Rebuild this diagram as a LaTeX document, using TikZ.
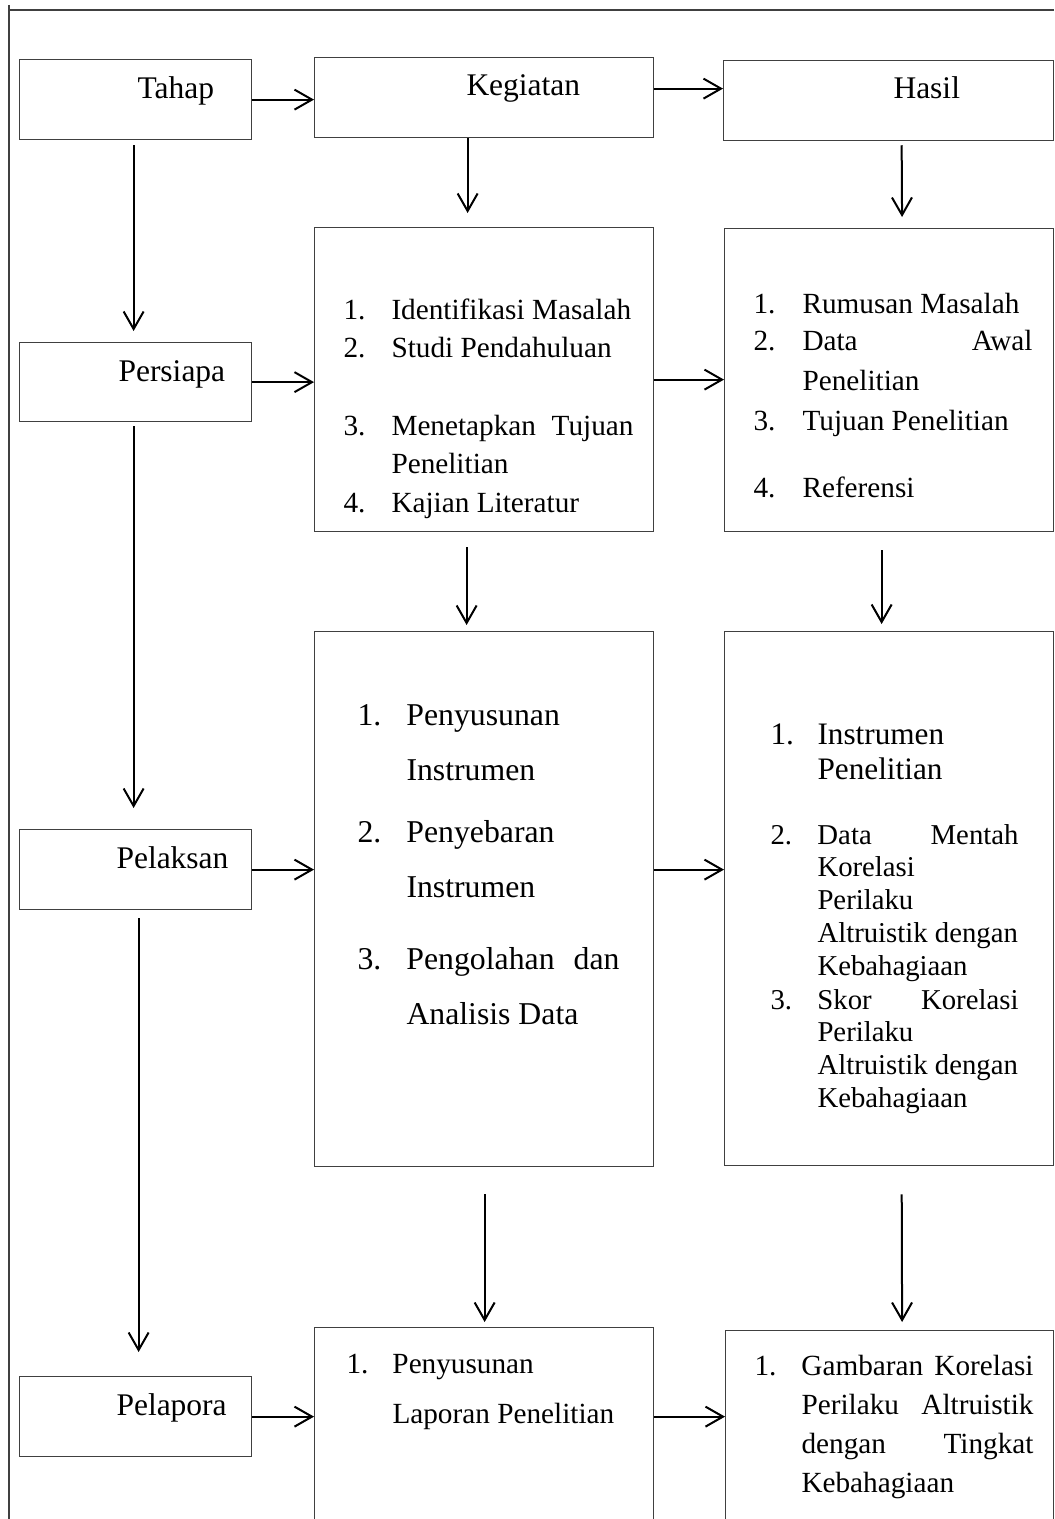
\documentclass[tikz,border=0pt]{standalone}
\usepackage{fontspec}
\setmainfont{Liberation Serif}
\usetikzlibrary{arrows.meta,calc}
\newcommand{\listentry}[3]{\makebox[#1][l]{#2}\parbox[t]{110pt}{#3}}
\tikzset{
  box/.style={draw=black!75, line width=0.5pt, inner sep=0pt, anchor=north west},
  title/.style={anchor=base west, inner sep=0pt, font=\fontsize{12.6}{15}\selectfont},
  item/.style 2 args={anchor=base west, inner sep=0pt, font=\fontsize{#1}{#2}\selectfont},
  frame/.style={draw=black!75, line width=0.5pt},
  arrow/.style={-{Straight Barb[length=7pt,width=8pt]}, line width=0.8pt}
}
\begin{document}
\begin{tikzpicture}[x=0.4pt, y=-0.4pt]
  \useasboundingbox (0,0) rectangle (1054,1519);
  \clip (0,0) rectangle (1054,1519);
  \draw[frame] (9,5) -- (9,1519);
  \draw[frame] (9,10) -- (1054,10);
  % heads
  \node[box, minimum width=92.8pt, minimum height=32pt] (tahap) at (19,59) {};
  \node[box, minimum width=135.6pt, minimum height=32pt] (keg) at (314,57) {};
  \node[box, minimum width=132pt, minimum height=32pt] (hasil) at (723,60) {};
  \node[title] (tahapT) at (137,99) {Tahap};
  \node[title] (kegT) at (466,96) {Kegiatan};
  \node[title] (hasilT) at (893,99) {Hasil};
  % stages
  \node[box, minimum width=92.8pt, minimum height=31.6pt] (pers) at (19,342) {};
  \node[box, minimum width=92.8pt, minimum height=32pt] (pel) at (19,829) {};
  \node[box, minimum width=92.8pt, minimum height=32pt] (lap) at (19,1376) {};
  \node[title] (persT) at (118,381) {Persiapa};
  \node[title] (pelT) at (116,868) {Pelaksan};
  \node[title] (lapT) at (116,1415) {Pelapora};
  % activities
  \node[box, minimum width=135.6pt, minimum height=121.6pt] (keg1) at (314,227) {};
  \node[box, minimum width=135.6pt, minimum height=214pt] (keg2) at (314,631) {};
  \node[box, minimum width=135.6pt, minimum height=100pt] (keg3) at (314,1327) {};
  % results
  \node[box, minimum width=131.6pt, minimum height=121.2pt] (has1) at (724,228) {};
  \node[box, minimum width=131.6pt, minimum height=213.6pt] (has2) at (724,631) {};
  \node[box, minimum width=131.2pt, minimum height=100pt] (has3) at (725,1330) {};

  % lists, persiapan
  \node[item={11.7}{15.3}] (keg1a) at (343,319) {\listentry{19.2pt}{1.}{Identifikasi Masalah}};
  \node[item={11.7}{15.3}] (keg1b) at (343,357) {\listentry{19.2pt}{2.}{Studi Pendahuluan}};
  \node[item={11.7}{15.3}] (keg1c) at (343,435) {\listentry{19.2pt}{3.}{\makebox[96.8pt][s]{Menetapkan Tujuan}\\Penelitian}};
  \node[item={11.7}{15.3}] (keg1d) at (343,512) {\listentry{19.2pt}{4.}{Kajian Literatur}};
  \node[item={11.7}{16}] (has1a) at (753,313) {\listentry{19.6pt}{1.}{Rumusan Masalah}};
  \node[item={11.7}{16}] (has1b) at (753,350) {\listentry{19.6pt}{2.}{\makebox[92pt][s]{Data Awal}\\Penelitian}};
  \node[item={11.7}{16}] (has1c) at (753,430) {\listentry{19.6pt}{3.}{Tujuan Penelitian}};
  \node[item={11.7}{16}] (has1d) at (753,497) {\listentry{19.6pt}{4.}{Referensi}};
  % lists, pelaksanaan
  \node[item={12.7}{22.2}] (keg2a) at (357,725) {\listentry{19.6pt}{1.}{Penyusunan\\Instrumen}};
  \node[item={12.7}{22.2}] (keg2b) at (357,842) {\listentry{19.6pt}{2.}{Penyebaran\\Instrumen}};
  \node[item={12.7}{22.2}] (keg2c) at (357,969) {\listentry{19.6pt}{3.}{\makebox[85.2pt][s]{Pengolahan dan}\\Analisis Data}};
  \node[item={12.5}{14}] (has2a) at (770,744) {\listentry{18.8pt}{1.}{Instrumen\\Penelitian}};
  \node[item={11.5}{13.1}] (has2b) at (770,844) {\listentry{18.8pt}{2.}{\makebox[80.4pt][s]{Data Mentah}\\Korelasi\\Perilaku\\Altruistik dengan\\Kebahagiaan}};
  \node[item={11.5}{13.1}] (has2c) at (770,1009) {\listentry{18.8pt}{3.}{\makebox[80.4pt][s]{Skor Korelasi}\\Perilaku\\Altruistik dengan\\Kebahagiaan}};
  % lists, pelaporan
  \node[item={11.7}{20}] (keg3a) at (346,1373) {\listentry{18.4pt}{1.}{Penyusunan\\Laporan Penelitian}};
  \node[item={11.7}{15.6}] (has3a) at (754,1375) {\listentry{18.8pt}{1.}{\makebox[92.8pt][s]{Gambaran Korelasi}\\\makebox[92.8pt][s]{Perilaku Altruistik}\\\makebox[92.8pt][s]{dengan Tingkat}\\Kebahagiaan}};

  % horizontal arrows
  \coordinate (kh) at ($(keg.east)+(0,-9)$);
  \draw[arrow] (tahap.east) -- (tahap.east -| keg.west);
  \draw[arrow] (kh) -- (kh -| hasil.west);
  \draw[arrow] (pers.east) -- (pers.east -| keg1.west);
  \draw[arrow] (keg1.east) -- (keg1.east -| has1.west);
  \draw[arrow] (pel.east) -- (pel.east -| keg2.west);
  \draw[arrow] (pel.east -| keg2.east) -- (pel.east -| has2.west);
  \draw[arrow] (lap.east) -- (lap.east -| keg3.west);
  \draw[arrow] (lap.east -| keg3.east) -- (lap.east -| has3.west);
  % vertical arrows
  \foreach \a/\b/\dx/\s/\e in {tahap/pers/-2/2pt/4.4pt, pers/pel/-2/1.6pt/8.4pt,
      pel/lap/3/3.2pt/9.6pt, keg/keg1/-16.5/0pt/5.6pt, keg1/keg2/-17.5/6pt/2.4pt,
      keg2/keg3/0.5/10.8pt/2pt, hasil/has1/13/1.6pt/4.4pt, has1/has2/-7.5/7.2pt/2.8pt,
      has2/has3/12.5/11.2pt/3.2pt}
    \draw[arrow, shorten <=\s, shorten >=\e] ($(\a.south)+(\dx,0)$) -- ($(\b.north)+(\dx,0)$);
\end{tikzpicture}
\end{document}
